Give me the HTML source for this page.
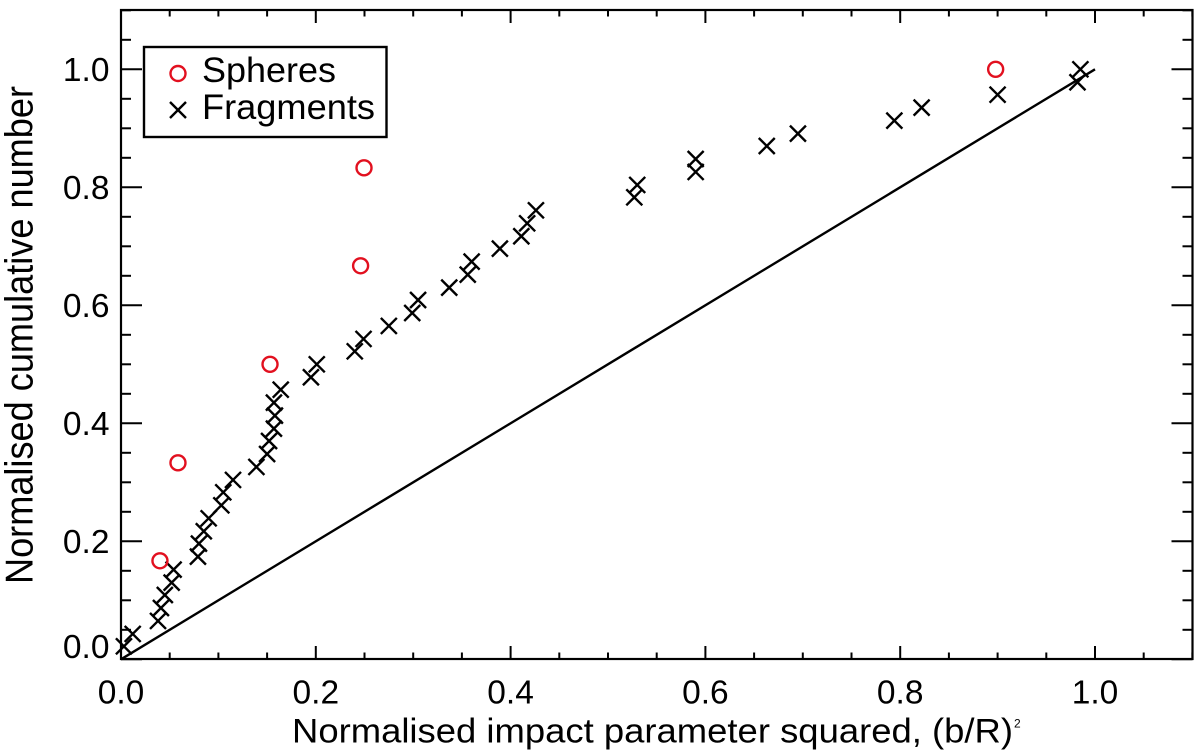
<!DOCTYPE html>
<html lang="en">
<head>
<meta charset="utf-8">
<title>Normalised cumulative number vs impact parameter</title>
<style>
html,body{margin:0;padding:0;background:#fff;width:1200px;height:756px;overflow:hidden}
svg{display:block}
text{font-family:"Liberation Sans",Arial,sans-serif;fill:#000}
</style>
</head>
<body>
<svg id="chart" width="1200" height="756" viewBox="0 0 1200 756" xmlns="http://www.w3.org/2000/svg">
  <g id="ticks"></g>
  <g id="tick-labels"></g>
  <rect x="121" y="10" width="1071.5" height="649" fill="none" stroke="#000" stroke-width="2.2"/>
  <g id="reference"></g>
  <g id="fragments"></g>
  <g id="spheres"></g>
  <text x="292" y="742.5" font-size="34.5" textLength="721" lengthAdjust="spacingAndGlyphs">Normalised impact parameter squared, (b/R)</text>
  <text x="1014" y="727.5" font-size="12">2</text>
  <text transform="translate(32.3,584) rotate(-90) scale(1,1.17)" font-size="33" textLength="498" lengthAdjust="spacingAndGlyphs">Normalised cumulative number</text>
  <g>
    <rect x="144" y="47" width="242.5" height="90" fill="#fff" stroke="#000" stroke-width="2.4"/>
    <circle cx="178" cy="73.5" r="7.5" fill="none" stroke="#e2101f" stroke-width="2.4"/>
    <text x="202" y="82" font-size="35" textLength="134" lengthAdjust="spacingAndGlyphs">Spheres</text>
    <path d="M170 102 L186 118 M186 102 L170 118" fill="none" stroke="#000" stroke-width="2.4"/>
    <text x="202" y="119" font-size="35" textLength="173" lengthAdjust="spacingAndGlyphs">Fragments</text>
  </g>
</svg>
<script>
const xTickLabels = ["0.0", "0.2", "0.4", "0.6", "0.8", "1.0"];
const yTickLabels = ["0.0", "0.2", "0.4", "0.6", "0.8", "1.0"];
const fragmentsX = [0.003,0.012,0.038,0.041,0.045,0.052,0.054,0.079,0.080,0.085,0.090,0.103,0.105,0.115,0.139,0.150,0.152,0.157,0.158,0.157,0.164,0.195,0.201,0.240,0.249,0.275,0.299,0.305,0.337,0.356,0.360,0.389,0.411,0.417,0.426,0.527,0.530,0.590,0.590,0.663,0.695,0.794,0.822,0.900,0.982,0.985];
const fragmentsY = [0.022,0.043,0.065,0.087,0.109,0.130,0.152,0.174,0.196,0.217,0.239,0.261,0.283,0.304,0.326,0.348,0.370,0.391,0.413,0.435,0.457,0.478,0.500,0.522,0.543,0.565,0.587,0.609,0.630,0.652,0.674,0.696,0.717,0.739,0.761,0.783,0.804,0.826,0.848,0.870,0.891,0.913,0.935,0.957,0.978,1.000];
const spheresX = [0.040,0.0585,0.153,0.246,0.2495,0.898];
const spheresY = [0.167,0.333,0.500,0.667,0.833,1.000];
const referenceLine = [0, 1];

const NS = 'http://www.w3.org/2000/svg';
const x0 = 121, xPerUnit = 974;
const y0 = 659.3, yPerUnit = 590;
const xScale = v => x0 + v * xPerUnit;
const yScale = v => y0 - v * yPerUnit;
const AXIS_TOP = 10, AXIS_BOTTOM = 659, AXIS_LEFT = 121, AXIS_RIGHT = 1192.5;

function make(tag, attrs, parent) {
  const el = document.createElementNS(NS, tag);
  for (const k in attrs) el.setAttribute(k, attrs[k]);
  parent.appendChild(el);
  return el;
}

const tickGroup = document.getElementById('ticks');
const labelGroup = document.getElementById('tick-labels');

for (let i = 0; i <= 22; i++) {
  const v = i * 0.05;
  const major = i % 4 === 0;
  const lenX = major ? 13 : 6.5;
  const lenY = major ? 21 : 10;
  if (v <= 1.1001) {
    const px = xScale(v);
    const b = make('line', {x1: px, x2: px, y1: AXIS_BOTTOM, y2: AXIS_BOTTOM - lenX, stroke: '#000', 'stroke-width': 2}, tickGroup);
    
    
    const t = make('line', {x1: px, x2: px, y1: AXIS_TOP, y2: AXIS_TOP + lenX, stroke: '#000', 'stroke-width': 2}, tickGroup);
    
    
    const py = yScale(v);
    const l = make('line', {x1: AXIS_LEFT, x2: AXIS_LEFT + lenY, y1: py, y2: py, stroke: '#000', 'stroke-width': 2}, tickGroup);
    
    
    const r = make('line', {x1: AXIS_RIGHT, x2: AXIS_RIGHT - lenY, y1: py, y2: py, stroke: '#000', 'stroke-width': 2}, tickGroup);
    
    
  }
}

xTickLabels.forEach(function (lab) {
  const t = make('text', {x: xScale(parseFloat(lab)), y: 703.5, 'font-size': 33.5, 'text-anchor': 'middle'}, labelGroup);
  
  
  t.textContent = lab;
});
yTickLabels.forEach(function (lab) {
  const v = parseFloat(lab);
  const base = v === 0 ? 658 : yScale(v) + 11.5;
  const t = make('text', {x: 109.5, y: base, 'font-size': 33.5, 'text-anchor': 'end'}, labelGroup);
  
  
  t.textContent = lab;
});

const refGroup = document.getElementById('reference');
const refLine = make('line', {
  x1: xScale(referenceLine[0]), y1: yScale(referenceLine[0]),
  x2: xScale(referenceLine[1]), y2: yScale(referenceLine[1]),
  stroke: '#000', 'stroke-width': 2.4
}, refGroup);



const fragGroup = document.getElementById('fragments');
const S = 8;
fragmentsX.forEach(function (xv, i) {
  const px = xScale(xv), py = yScale(fragmentsY[i]);
  const p = make('path', {
    d: 'M' + (px - S) + ' ' + (py - S) + ' L' + (px + S) + ' ' + (py + S) + ' M' + (px + S) + ' ' + (py - S) + ' L' + (px - S) + ' ' + (py + S),
    fill: 'none', stroke: '#000', 'stroke-width': 2.4
  }, fragGroup);
  
  
});

const sphGroup = document.getElementById('spheres');
spheresX.forEach(function (xv, i) {
  const c = make('circle', {cx: xScale(xv), cy: yScale(spheresY[i]), r: 7.5, fill: 'none', stroke: '#e2101f', 'stroke-width': 2.4}, sphGroup);
  
  
});
</script>
</body>
</html>
